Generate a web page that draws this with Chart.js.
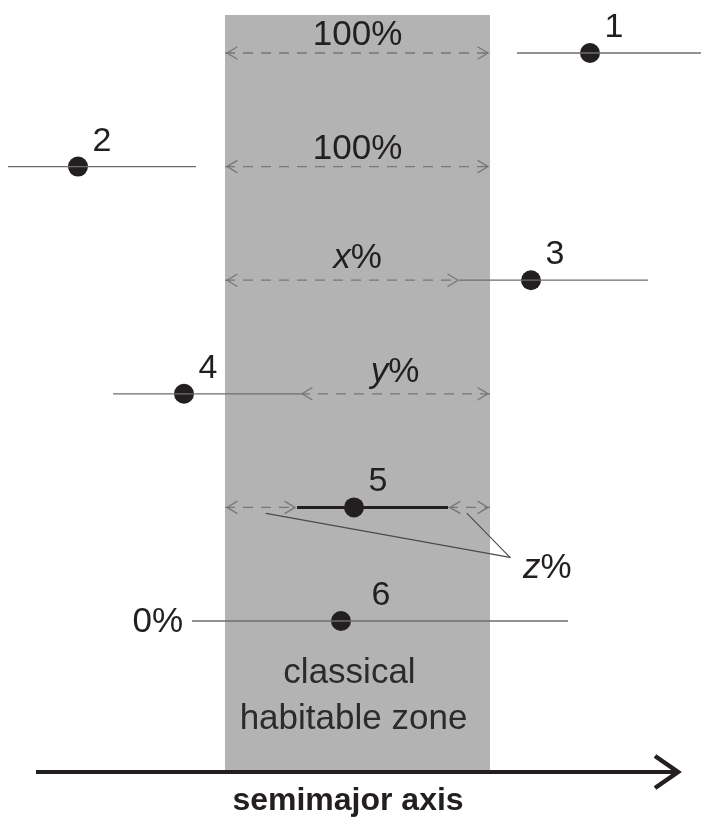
<!DOCTYPE html>
<html>
<head>
<meta charset="utf-8">
<script src="https://cdn.jsdelivr.net/npm/chart.js@4.4.1/dist/chart.umd.min.js"></script>
<style>
  html, body { margin: 0; padding: 0; background: #fff; }
  #wrap { width: 701px; height: 820px; }
</style>
</head>
<body>
<div id="wrap"><canvas id="orbitChart" width="701" height="820"></canvas></div>
<script>
// semimajor axis in arbitrary units, one orbit per row
const planets = ['1', '2', '3', '4', '5', '6'];
const semimajor = [590, 78, 531, 184, 354, 341];
const periastron = [517, 8, 460, 113, 297, 192];
const apastron = [701, 196, 648, 300, 448, 568];
const habitableZone = [225, 490];
const timeInZone = ['100%', '100%', 'x%', 'y%', 'z%', '0%'];
const zoneTitle = ['classical', 'habitable zone'];
const axisTitle = 'semimajor axis';

const FONT = '"Liberation Sans", Arial, sans-serif';
const INK = '#231f20';
const DASH = '#777777';

// parts of the habitable zone the orbit never reaches
function freeSpans(i) {
    const [lo, hi] = habitableZone;
    const q = periastron[i], Q = apastron[i];
    if (Q <= lo || q >= hi) return [[lo, hi]];
    const spans = [];
    if (q > lo) spans.push([lo, q]);
    if (Q < hi) spans.push([Q, hi]);
    return spans;
}

const row = i => i + 1;
const insideZone = i => periastron[i] >= habitableZone[0] && apastron[i] <= habitableZone[1];

const datasets = [];
planets.forEach((p, i) => {
    datasets.push({
        label: 'orbit ' + p,
        data: [{ x: periastron[i], y: row(i) }, { x: apastron[i], y: row(i) }],
        showLine: true,
        borderColor: insideZone(i) ? INK : '#6e6e6e',
        borderWidth: insideZone(i) ? 3 : 1.3,
        pointRadius: 0,
        clip: false
    });
    freeSpans(i).forEach(s => {
        datasets.push({
            label: 'zone ' + p,
            data: [{ x: s[0], y: row(i) }, { x: s[1], y: row(i) }],
            showLine: true,
            borderColor: DASH,
            borderWidth: 1.3,
            borderDash: [10, 8],
            pointRadius: 0,
            clip: false
        });
    });
});
datasets.push({
    label: 'planets',
    data: semimajor.map((a, i) => ({ x: a, y: row(i) })),
    pointRadius: 10,
    pointBackgroundColor: INK,
    pointBorderWidth: 0,
    clip: false
});

function chevron(ctx, tx, ty, dir, len, half) {
    ctx.beginPath();
    ctx.moveTo(tx - dir * len, ty - half);
    ctx.lineTo(tx, ty);
    ctx.lineTo(tx - dir * len, ty + half);
    ctx.stroke();
}

function italicLabel(ctx, text, left, base) {
    ctx.textAlign = 'left';
    ctx.font = 'italic 35px ' + FONT;
    ctx.fillText(text[0], left, base);
    const w = ctx.measureText(text[0]).width;
    ctx.font = '35px ' + FONT;
    ctx.fillText(text.slice(1), left + w, base);
}
function italicWidth(ctx, text) {
    ctx.font = 'italic 35px ' + FONT;
    const w = ctx.measureText(text[0]).width;
    ctx.font = '35px ' + FONT;
    return w + ctx.measureText(text.slice(1)).width;
}

const figurePlugin = {
    id: 'figure',
    beforeDatasetsDraw(chart) {
        const { ctx, scales: { x, y } } = chart;
        const x0 = x.getPixelForValue(habitableZone[0]);
        const x1 = x.getPixelForValue(habitableZone[1]);
        const top = y.getPixelForValue(row(0)) - 38;
        const bottom = y.getPixelForValue(row(5)) + 151;
        ctx.save();
        ctx.fillStyle = '#b3b3b3';
        ctx.fillRect(x0, top, x1 - x0, bottom - top);
        ctx.fillStyle = '#2b2b2b';
        ctx.font = '35px ' + FONT;
        ctx.textAlign = 'center';
        const cx = (x0 + x1) / 2 - 4;
        const r6 = y.getPixelForValue(row(5));
        ctx.fillText(zoneTitle[0], cx - 4, r6 + 62);
        ctx.fillText(zoneTitle[1], cx, r6 + 108);
        ctx.restore();
    },
    afterDatasetsDraw(chart) {
        const { ctx, scales: { x, y } } = chart;
        ctx.save();
        ctx.fillStyle = INK;
        ctx.lineCap = 'round';

        planets.forEach((p, i) => {
            const py = y.getPixelForValue(row(i));
            const spans = freeSpans(i);

            // arrowheads on the dashed spans
            ctx.strokeStyle = DASH;
            ctx.lineWidth = 1.3;
            spans.forEach(s => {
                chevron(ctx, x.getPixelForValue(s[0]) + 2, py, -1, 10, 6);
                chevron(ctx, x.getPixelForValue(s[1]) - 2, py, 1, 10, 6);
            });

            // planet number
            ctx.fillStyle = INK;
            ctx.font = '34px ' + FONT;
            ctx.textAlign = 'center';
            const dx = i === 5 ? 40 : 24;
            ctx.fillText(p, x.getPixelForValue(semimajor[i]) + dx, py - 16);

            // share of the orbit spent in the zone
            const label = timeInZone[i];
            if (spans.length === 1) {
                const mid = (x.getPixelForValue(spans[0][0]) + x.getPixelForValue(spans[0][1])) / 2;
                const zc = x.getPixelForValue((habitableZone[0] + habitableZone[1]) / 2);
                const cx = Math.max(mid, zc);
                if (/^[a-z]/.test(label)) {
                    const w = italicWidth(ctx, label);
                    italicLabel(ctx, label, cx - w / 2, py - 12);
                } else {
                    ctx.font = '35px ' + FONT;
                    ctx.textAlign = 'center';
                    ctx.fillText(label, cx, py - 8);
                }
            } else if (spans.length === 2) {
                const ex = x.getPixelForValue(habitableZone[1]) + 20;
                const ey = py + 50;
                ctx.strokeStyle = '#4a4a4a';
                ctx.lineWidth = 1.1;
                spans.forEach((s, k) => {
                    const mx = (x.getPixelForValue(s[0]) + x.getPixelForValue(s[1])) / 2 + (k === 0 ? 5 : -2);
                    ctx.beginPath();
                    ctx.moveTo(mx, py + 6);
                    ctx.lineTo(ex, ey);
                    ctx.stroke();
                });
                italicLabel(ctx, label, ex + 13, py + 71);
            } else {
                ctx.font = '35px ' + FONT;
                ctx.textAlign = 'right';
                ctx.textBaseline = 'middle';
                ctx.fillText(label, x.getPixelForValue(periastron[i]) - 9, py + 1);
                ctx.textBaseline = 'alphabetic';
            }
        });

        // semimajor axis arrow
        const ay = y.getPixelForValue(row(5)) + 151;
        ctx.strokeStyle = INK;
        ctx.lineWidth = 4;
        ctx.lineCap = 'butt';
        ctx.beginPath();
        ctx.moveTo(36, ay);
        ctx.lineTo(676, ay);
        ctx.stroke();
        ctx.lineWidth = 4.5;
        ctx.lineJoin = 'miter';
        chevron(ctx, 678, ay, 1, 23, 16);

        ctx.font = 'bold 32px ' + FONT;
        ctx.textAlign = 'center';
        ctx.fillStyle = INK;
        ctx.fillText(axisTitle, 348, ay + 38);
        ctx.restore();
    }
};

// 113.6 px between rows, first row 53 px from the top
const yMin = 1 - 53 / 113.6;
const yMax = yMin + 820 / 113.6;

new Chart(document.getElementById('orbitChart'), {
    type: 'scatter',
    data: { datasets: datasets },
    options: {
        responsive: false,
        animation: false,
        layout: { padding: 0, autoPadding: false },
        plugins: { legend: { display: false }, tooltip: { enabled: false } },
        scales: {
            x: { type: 'linear', min: 0, max: 701, display: false },
            y: { type: 'linear', min: yMin, max: yMax, reverse: true, display: false }
        }
    },
    plugins: [figurePlugin]
});
</script>
</body>
</html>
